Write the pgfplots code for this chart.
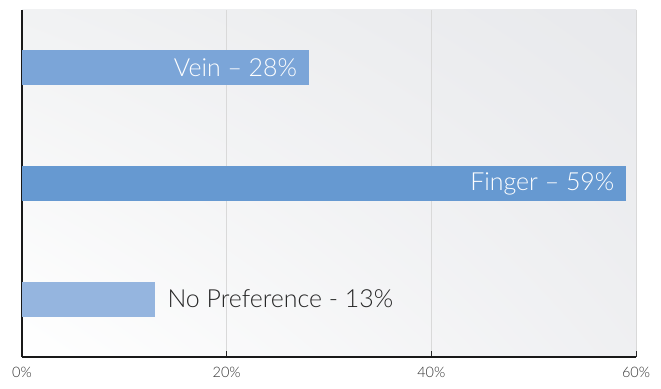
\documentclass[border=0pt]{standalone}
\usepackage{fontspec}
\setmainfont{Lato Light}
\usepackage{pgfplots}
\usetikzlibrary{shadings}
\pgfplotsset{compat=1.18}
\definecolor{cVein}{HTML}{7BA5D8}
\definecolor{cFinger}{HTML}{6699D1}
\definecolor{cNone}{HTML}{95B5DF}
\definecolor{tickc}{HTML}{333333}
\definecolor{bgR}{HTML}{E8E9EC}
\definecolor{bgM}{HTML}{F1F2F3}
\begin{document}
\begin{tikzpicture}[x=1bp,y=1bp]
\begin{axis}[
  scale only axis,
  width=614bp, height=347bp,
  xmin=0, xmax=60, ymin=-0.5, ymax=2.5,
  axis x line=bottom, axis y line=left,
  axis line style={-, line width=2.6pt, black!90},
  xtick={0,20,40,60},
  xticklabels={0\%,20\%,40\%,60\%},
  xticklabel style={font=\fontsize{14.5}{16}\selectfont, text=tickc, yshift=-7bp},
  /pgf/number format/assume math mode=true,
  ytick=\empty,
  xtick align=inside,
  major tick length=6bp,
  tick style={black!85, line width=1pt},
  xmajorgrids, grid style={gray!30, line width=0.6pt},
  axis background/.style={shade, lower left=white, upper left=bgM, lower right=bgR!70!white, upper right=bgR},
  xbar, bar width=35bp, bar shift=0pt,
  point meta=explicit symbolic,
  nodes near coords,
  every node near coord/.append style={font=\fontsize{25}{28}\selectfont},
  clip=false,
]
\addplot[draw=none, fill=cVein, every node near coord/.append style={anchor=east, xshift=-8bp, text=white}]
  coordinates {(28,2) [Vein -- 28\%]};
\addplot[draw=none, fill=cFinger, every node near coord/.append style={anchor=east, xshift=-8bp, text=white}]
  coordinates {(59,1) [Finger -- 59\%]};
\addplot[draw=none, fill=cNone, every node near coord/.append style={anchor=west, xshift=9bp, text=black!85}]
  coordinates {(13,0) [No Preference - 13\%]};
\end{axis}
\path (current axis.south west) ++(-22bp,-31bp) (current axis.north east) ++(25bp,10bp);
\end{tikzpicture}
\end{document}
